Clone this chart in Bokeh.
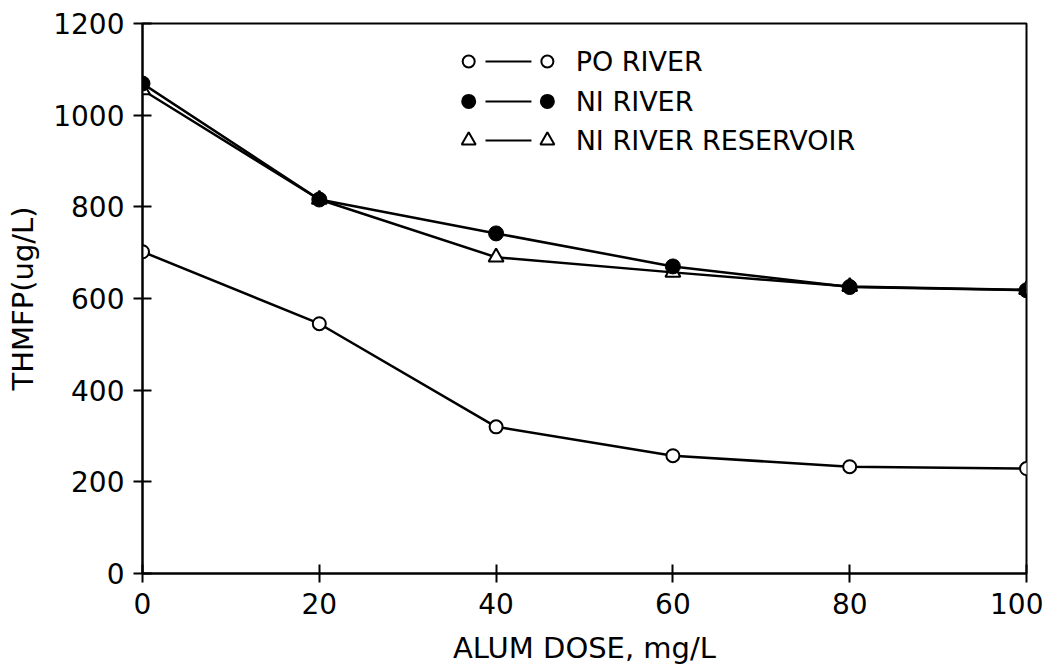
from bokeh.plotting import figure
from bokeh.models import Range1d, FixedTicker
from bokeh.embed import file_html
from bokeh.resources import INLINE
from bokeh.core.properties import value

# ---- data ----
alum_dose = [0, 20, 40, 60, 80, 100]
po_river = [702, 545, 320, 257, 233, 229]
ni_river = [1069, 816, 742, 670, 625, 618]
ni_reservoir = [1055, 816, 690, 657, 626, 619]

x_ticks = [0, 20, 40, 60, 80, 100]
y_ticks = [0, 200, 400, 600, 800, 1000, 1200]

series_names = ["PO RIVER", "NI RIVER", "NI RIVER RESERVOIR"]

FONT = "DejaVu Sans"

p = figure(width=1043, height=671, output_backend="svg", toolbar_location=None,
           x_range=Range1d(0, 100), y_range=Range1d(0, 1200),
           min_border_left=142, min_border_right=17, min_border_top=23, min_border_bottom=98)

p.background_fill_color = "white"
p.border_fill_color = "white"
p.outline_line_color = "black"
p.outline_line_width = 2
p.xgrid.visible = False
p.ygrid.visible = False

for ax in (p.xaxis[0], p.yaxis[0]):
    ax.axis_line_color = "black"
    ax.axis_line_width = 2
    ax.major_tick_line_color = "black"
    ax.major_tick_line_width = 2
    ax.major_tick_in = 9
    ax.major_tick_out = 9
    ax.minor_tick_line_color = None
    ax.major_label_text_font = FONT
    ax.major_label_text_font_size = "28px"
    ax.major_label_text_color = "black"
    ax.axis_label_text_font = FONT
    ax.axis_label_text_font_size = "29px"
    ax.axis_label_text_font_style = "normal"
    ax.axis_label_text_color = "black"

p.xaxis[0].ticker = FixedTicker(ticks=x_ticks)
p.yaxis[0].ticker = FixedTicker(ticks=y_ticks)
p.xaxis[0].axis_label = "ALUM DOSE, mg/L"
p.yaxis[0].axis_label = "THMFP(ug/L)"
p.xaxis[0].major_label_standoff = 10
p.xaxis[0].axis_label_standoff = 14
p.yaxis[0].major_label_standoff = 9
p.yaxis[0].axis_label_standoff = 10

LW = 2.5
# PO river: open circles
p.line(alum_dose, po_river, line_color="black", line_width=LW)
p.scatter(alum_dose, po_river, marker="circle", size=13, fill_color="white",
          line_color="black", line_width=2)
# NI river reservoir: open triangles
p.line(alum_dose, ni_reservoir, line_color="black", line_width=LW)
p.scatter(alum_dose, ni_reservoir, marker="triangle", size=15, fill_color="white",
          line_color="black", line_width=2)
# NI river: filled circles
p.line(alum_dose, ni_river, line_color="black", line_width=LW)
p.scatter(alum_dose, ni_river, marker="circle", size=15, fill_color="black",
          line_color="black", line_width=1)

# ---- legend (drawn manually: marker — marker  label) ----
leg_x_m1, leg_x_l0, leg_x_l1, leg_x_m2, leg_x_t = 36.9, 38.8, 44.0, 45.8, 49.0
leg_rows = [1117, 1030, 945]
leg_markers = [("circle", "white", 12), ("circle", "black", 13), ("triangle", "white", 14)]
for (mk, fill, sz), yy, name in zip(leg_markers, leg_rows, series_names):
    p.line([leg_x_l0, leg_x_l1], [yy, yy], line_color="black", line_width=2)
    p.scatter([leg_x_m1, leg_x_m2], [yy, yy], marker=mk, size=sz, fill_color=fill,
              line_color="black", line_width=2)
    p.text([leg_x_t], [yy], text=[name], text_font=value(FONT), text_font_size="27px",
           text_baseline="middle", text_align="left", text_color="black")

open("out.html", "w").write(file_html(p, INLINE))
